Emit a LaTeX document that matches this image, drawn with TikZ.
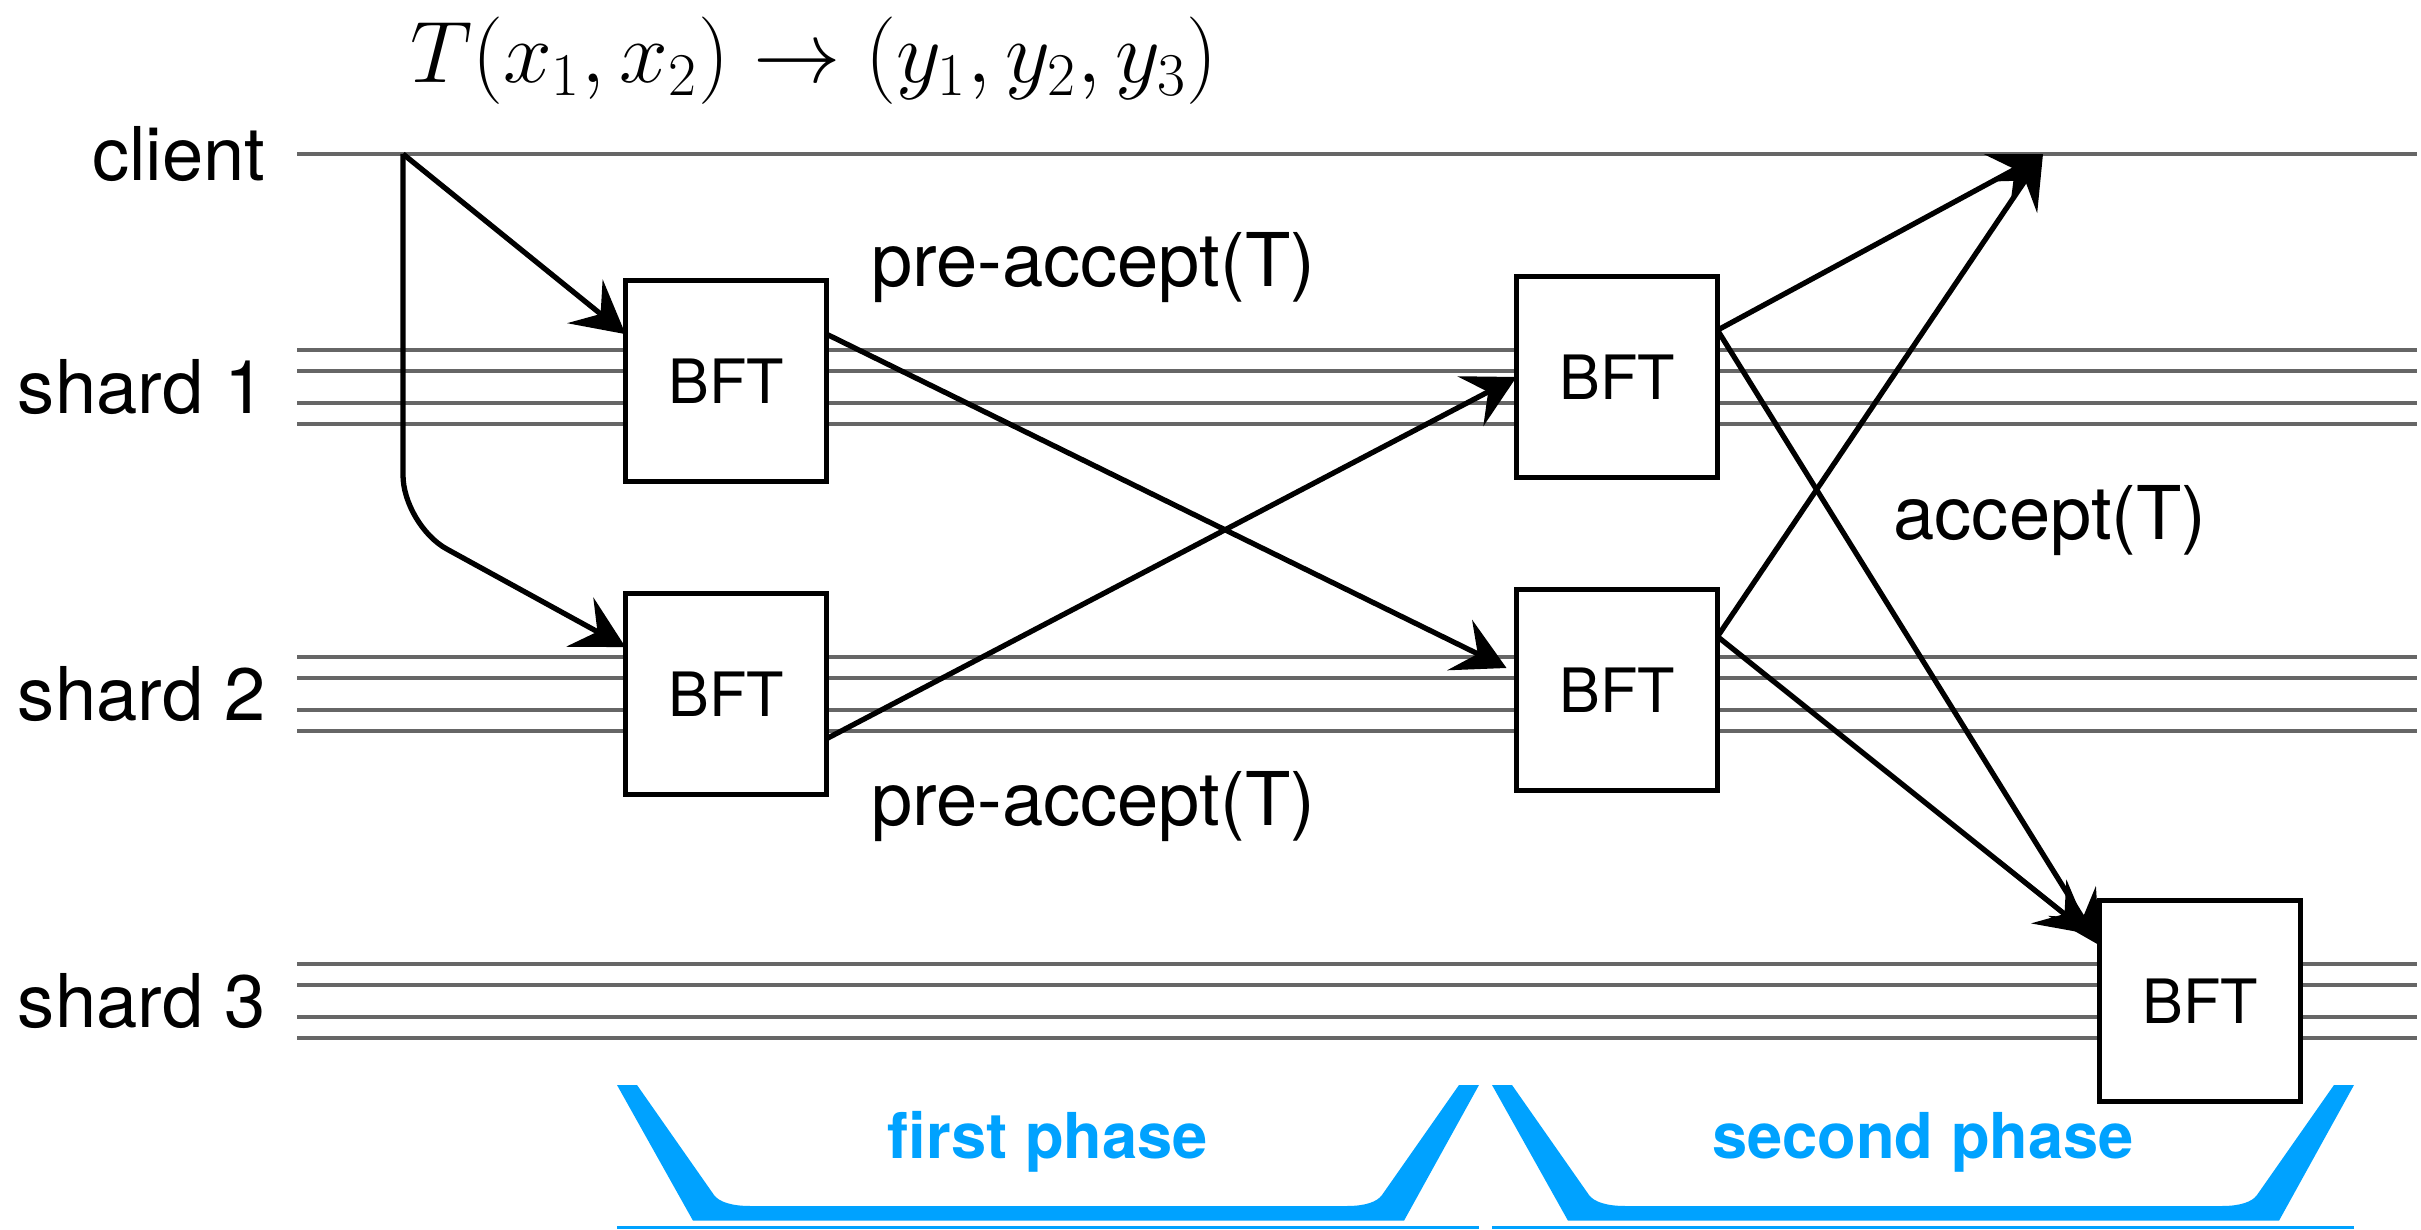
\documentclass[tikz,border=0pt]{standalone}
\usepackage{fontspec}
\setmainfont{TeX Gyre Heros}
\usetikzlibrary{arrows.meta,positioning}
\definecolor{lanegray}{RGB}{102,102,102}
\definecolor{phaseblue}{RGB}{0,162,255}

\begin{document}
\begin{tikzpicture}[
  lane/.style={draw=lanegray, line width=1.3pt},
  bft/.style={draw, fill=white, line width=1.5pt, minimum size=2.01cm, outer sep=0pt, font=\fontsize{17.4}{20}\selectfont},
  msg/.style={line width=1.5pt, -{Stealth[length=5.2mm,width=5.6mm,inset=2mm]}},
  lbl/.style={font=\fontsize{21.1}{25}\selectfont},
  phase/.style={font=\bfseries\fontsize{18}{22}\selectfont, text=phaseblue}
]
  \useasboundingbox (0,0) rectangle (24.21,12.29);

  \node (tx) at (8.14,11.68) {\fontsize{25}{30}\selectfont $T(x_1,x_2)\rightarrow(y_1,y_2,y_3)$};

  % lanes
  \draw[lane] (2.97,10.75) -- (24.17,10.75);
  \node[lbl, anchor=east, inner sep=0pt] (cli) at (2.66,10.75) {client};
  \foreach \y/\n in {8.42/1,5.35/2,2.28/3} {
    \foreach \d in {0.37,0.16,-0.16,-0.37}
      \draw[lane] (2.97,\y+\d) -- (24.17,\y+\d);
    \node[lbl, anchor=east, inner sep=0pt] (s\n) at (2.66,\y) {shard \n};
  }

  \node[bft] (b1) at (7.26,8.48) {BFT};
  \node[bft] (b2) at (7.26,5.35) {BFT};
  \node[bft] (b3) at (16.17,8.52) {BFT};
  \node[bft] (b4) at (16.17,5.39) {BFT};
  \node[bft] (b5) at (22.00,2.28) {BFT};

  \coordinate (src) at (4.03,10.75);
  \coordinate (bend) at (4.03,7.04);
  \coordinate (done) at (20.43,10.75);

  \draw[msg] (src) -- (b1.155);
  \draw[msg, rounded corners=0.5cm] (src) -- (bend) -- (b2.155);
  \draw[msg] (b1.25) -- ([shift={(-1mm,2.2mm)}]b4.west);
  \draw[msg] (b2.-24) -- (b3.west);
  \draw[msg] (b3.25) -- (done);
  \draw[msg] (b3.25) -- (b5.151);
  \draw[msg] (b4.28) -- (done);
  \draw[msg] (b4.28) -- ([shift={(-1mm,6.7mm)}]b5.west);

  \node[lbl] (pa1) at (10.93,9.61) {pre-accept(T)};
  \node[lbl] (pa2) at (10.93,4.22) {pre-accept(T)};
  \node[lbl] (acc) at (20.50,7.08) {accept(T)};

  % phases
  \foreach \x/\t/\i in {6.17/first phase/1,14.92/second phase/2} {
    \fill[phaseblue, shift={(\x,0)}] (0,1.44) -- (0.76,0.083) -- (7.87,0.083) -- (8.62,1.44) -- (8.42,1.44) -- (7.65,0.34)
      .. controls (7.60,0.27) and (7.48,0.23) .. (7.30,0.23) -- (1.33,0.23)
      .. controls (1.15,0.23) and (1.02,0.27) .. (0.97,0.34) -- (0.20,1.44) -- cycle;
    \draw[phaseblue, line width=0.95pt] (\x,0.017) -- ++(8.62,0);
    \node[phase] (ph\i) at (\x+4.31,0.87) {\t};
  }
\end{tikzpicture}
\end{document}
